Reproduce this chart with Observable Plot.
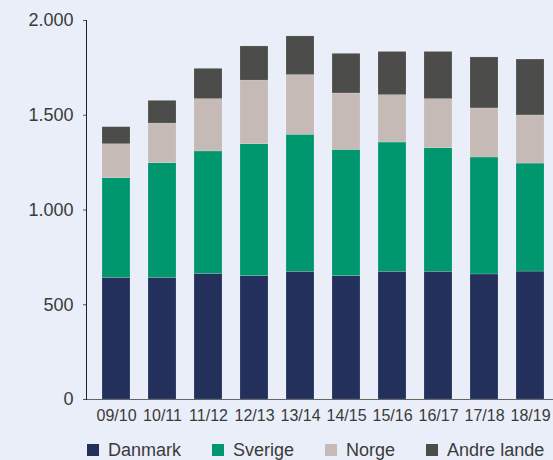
<!DOCTYPE html>
<html>
<head>
<meta charset="utf-8">
<script src="https://cdn.jsdelivr.net/npm/d3@7"></script>
<script src="https://cdn.jsdelivr.net/npm/@observablehq/plot@0.6"></script>
<style>
  html, body { margin: 0; padding: 0; background: #e9eef8; }
  body { width: 553px; height: 460px; overflow: hidden; font-family: "Liberation Sans", Arial, Helvetica, sans-serif; }
  #chart svg { display: block; }
  #legend { display: flex; align-items: center; padding-left: 87px; padding-top: 9px; height: 18px; line-height: 18px; font-size: 18px; color: #3a3a3a; white-space: nowrap; }
  .item { display: flex; align-items: center; margin-right: 31px; flex-shrink: 0; white-space: nowrap; }
  .sw { width: 12px; height: 12px; margin-right: 9px; flex-shrink: 0; }
</style>
</head>
<body>
<div id="chart"></div>
<div id="legend"></div>
<script>
const seasons = ["09/10","10/11","11/12","12/13","13/14","14/15","15/16","16/17","17/18","18/19"];
const seriesNames = ["Danmark","Sverige","Norge","Andre lande"];
const seriesColors = ["#22305b","#00976f","#c5bab5","#4c4c4a"];
const danmark = [642, 642, 663, 651, 674, 651, 674, 674, 660, 675];
const sverige = [526, 605, 646, 696, 723, 666, 682, 652, 617, 570];
const norge   = [179, 209, 276, 336, 315, 298, 250, 259, 259, 254];
const andre   = [90, 120, 160, 180, 204, 209, 228, 249, 269, 295];
const yTicks = [0, 500, 1000, 1500, 2000];
const yTickLabels = ["0", "500", "1.000", "1.500", "2.000"];

const seriesValues = [danmark, sverige, norge, andre];
const data = [];
seriesNames.forEach((name, si) => {
  seasons.forEach((s, i) => data.push({season: s, series: name, value: seriesValues[si][i]}));
});

const chart = Plot.plot({
  width: 553,
  height: 432,
  marginTop: 20,
  marginBottom: 33,
  marginLeft: 86,
  marginRight: 0,
  style: {background: "transparent", fontFamily: "'Liberation Sans', Arial, Helvetica, sans-serif", color: "#3a3a3a"},
  x: {domain: seasons, range: [86, 560.5], paddingInner: 0.39, paddingOuter: 0.324, label: null},
  y: {domain: [0, 2000], label: null},
  color: {domain: seriesNames, range: seriesColors},
  marks: [
    Plot.barY(data, Plot.stackY({x: "season", y: "value", fill: "series", order: seriesNames, stroke: "white", strokeOpacity: 0.25, strokeWidth: 0.6})),
    Plot.ruleY([0], {stroke: "#666", strokeWidth: 1.2}),
    Plot.axisY({ticks: yTicks, tickFormat: (d) => yTickLabels[yTicks.indexOf(d)], tickSize: 3, tickPadding: 10, fontSize: 18, stroke: "#555", label: null}),
    Plot.axisX({tickSize: 0, tickPadding: 10, fontSize: 16, label: null}),
    Plot.frame({anchor: "left", stroke: "#222", strokeWidth: 1})
  ]
});
document.getElementById("chart").appendChild(chart);

const legend = document.getElementById("legend");
seriesNames.forEach((name, i) => {
  const item = document.createElement("div");
  item.className = "item";
  const sw = document.createElement("span");
  sw.className = "sw";
  sw.style.background = seriesColors[i];
  const label = document.createElement("span");
  label.textContent = name;
  item.appendChild(sw);
  item.appendChild(label);
  legend.appendChild(item);
});
</script>
</body>
</html>
